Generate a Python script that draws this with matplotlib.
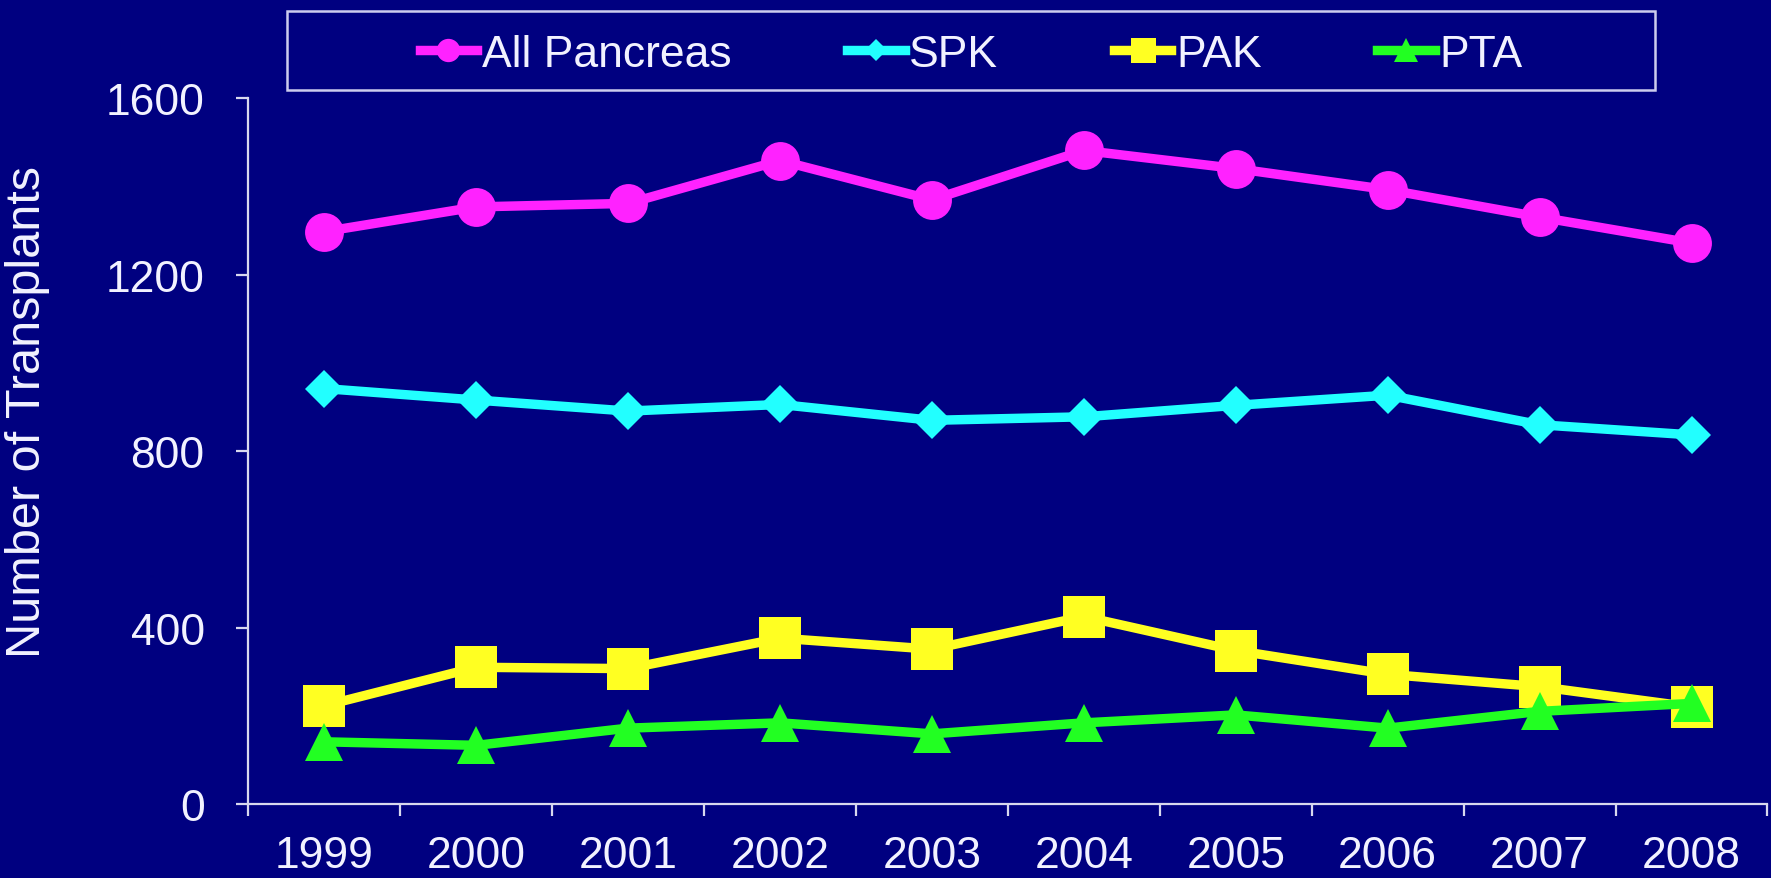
import matplotlib.pyplot as plt
from matplotlib.patches import Rectangle
import numpy as np

years = ["1999", "2000", "2001", "2002", "2003", "2004", "2005", "2006", "2007", "2008"]
all_pancreas = [1298, 1354, 1362, 1459, 1370, 1482, 1441, 1393, 1331, 1272]
spk = [942, 916, 891, 906, 870, 878, 904, 927, 860, 837]
pak = [223, 310, 307, 376, 351, 425, 348, 294, 266, 220]
pta = [141, 133, 172, 184, 159, 184, 202, 172, 210, 228]
y_ticks = [0, 400, 800, 1200, 1600]

bg = "#000080"
fg = "#F2F2FF"
axis_col = "#D8D8EE"

plt.rcParams["font.family"] = ["Liberation Sans", "DejaVu Sans"]

fig = plt.figure(figsize=(17.71, 8.79), dpi=100, facecolor=bg)
ax = fig.add_axes([0.1403, 0.0842, 0.8577, 0.8027], facecolor=bg)

x = np.arange(len(years))
series = [
    ("All Pancreas", all_pancreas, "#FF22FF", "o", 28),
    ("SPK", spk, "#22FFFF", "D", 19.5),
    ("PAK", pak, "#FFFF22", "s", 30),
    ("PTA", pta, "#22FF22", "^", 28),
]
for label, vals, col, mk, ms in series:
    ax.plot(x, vals, color=col, lw=6.8, marker=mk, markersize=ms,
            markeredgewidth=0, label=label, clip_on=False,
            solid_joinstyle="round")

ax.set_xlim(-0.5, len(years) - 0.5)
ax.set_ylim(0, 1600)
ax.set_yticks(y_ticks)
ax.set_xticks(x)
ax.set_xticklabels(years)
ax.set_xticks(np.arange(-0.5, len(years)), minor=True)

for side in ("top", "right"):
    ax.spines[side].set_visible(False)
for side in ("left", "bottom"):
    ax.spines[side].set_color(axis_col)
    ax.spines[side].set_linewidth(1.6)

ax.tick_params(axis="y", direction="out", length=8.5, width=1.6,
               color=axis_col, labelcolor=fg, labelsize=32, pad=23)
ax.tick_params(axis="x", which="major", length=0, labelcolor=fg,
               labelsize=32, pad=22)
ax.tick_params(axis="x", which="minor", direction="out", length=8.5,
               width=1.6, color=axis_col)

fig.text(28 / 1771, 0.531, "Number of Transplants", rotation=90,
         ha="center", va="center", color=fg, fontsize=35)

# legend box across the top
x0, x1 = 287 / 1771, 1655 / 1771
y0, y1 = 1 - 91 / 879, 1 - 12 / 879
fig.patches.append(Rectangle((x0, y0), x1 - x0, y1 - y0,
                             transform=fig.transFigure, fill=False,
                             edgecolor="#CCCCEE", lw=1.8))
leg = fig.legend(loc="center", bbox_to_anchor=((x0 + x1) / 2, (y0 + y1) / 2 - 0.004),
                 ncol=4, frameon=False, fontsize=32, handlelength=1.3,
                 handletextpad=0.1, columnspacing=2.6, markerscale=0.6,
                 borderaxespad=0)
for t in leg.get_texts():
    t.set_color(fg)

fig.savefig("out.png", dpi=100, facecolor=bg)
